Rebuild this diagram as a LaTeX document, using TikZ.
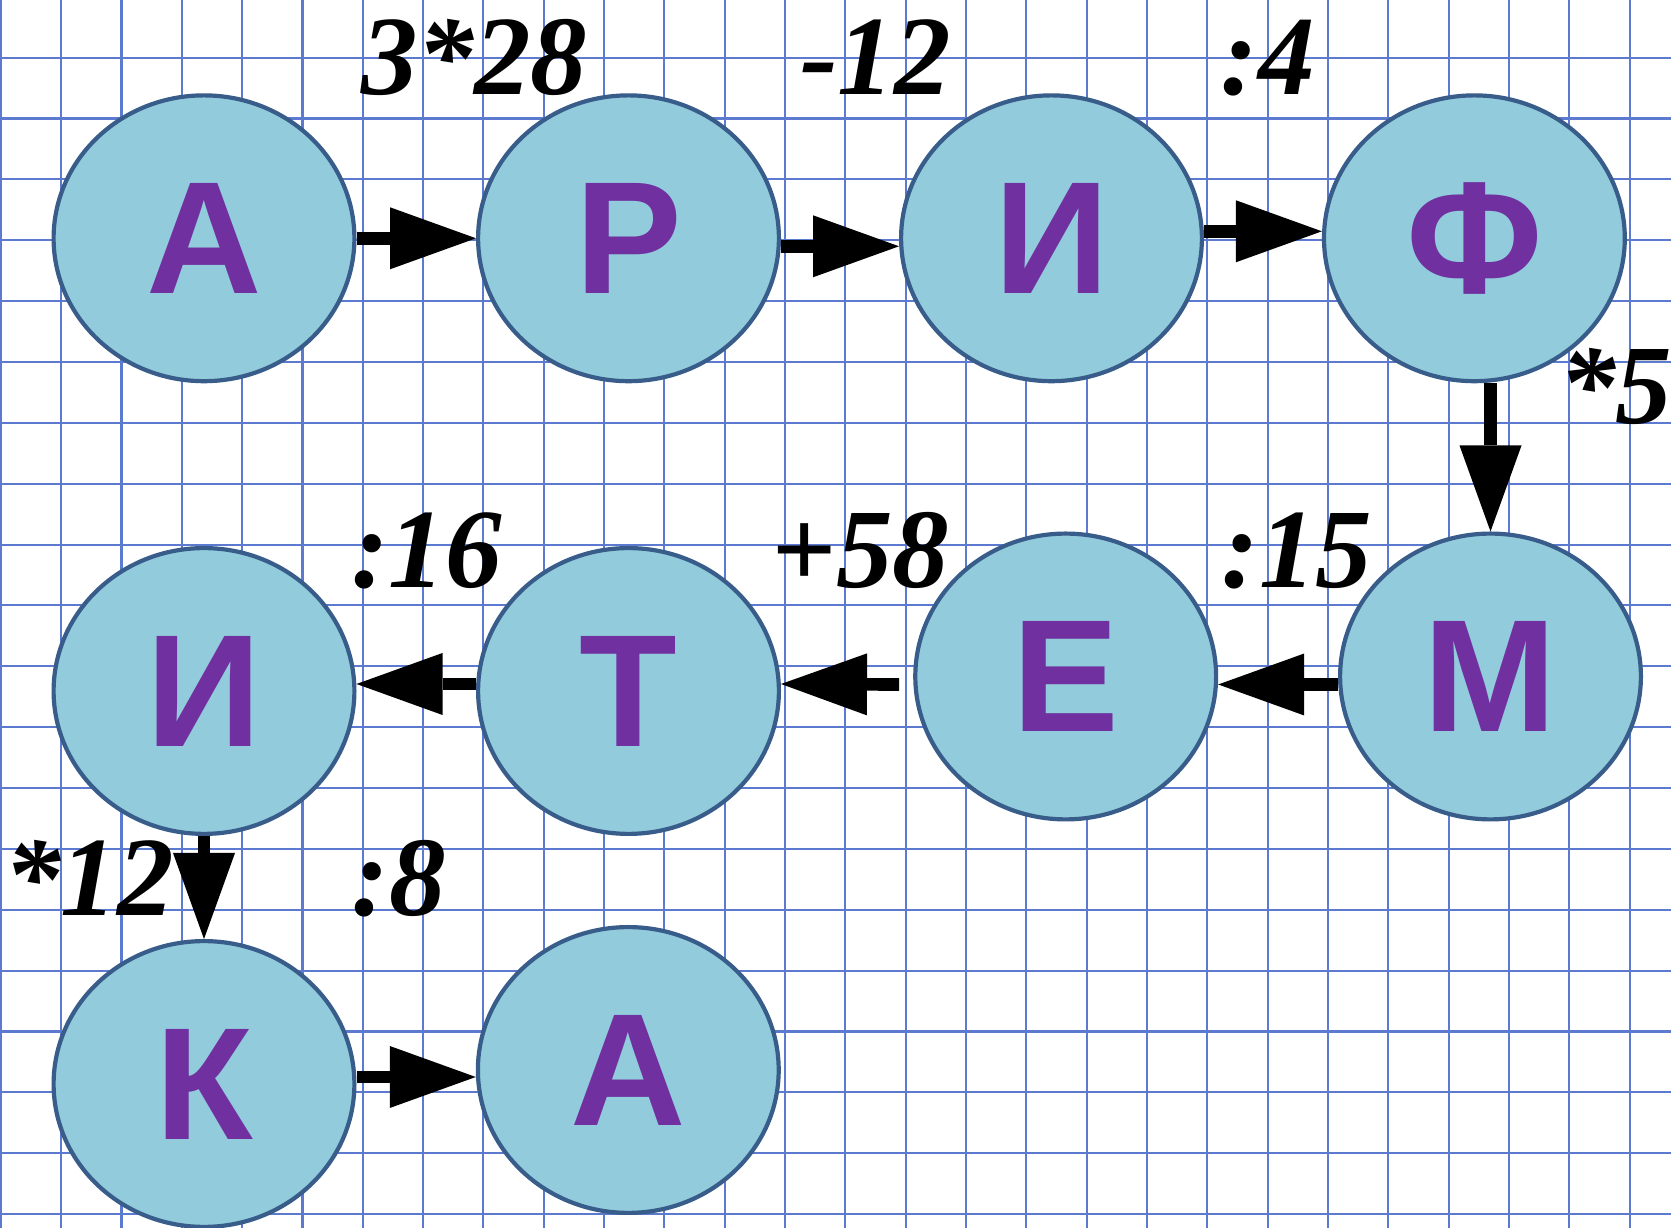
\documentclass[tikz,border=0pt]{standalone}
\usepackage{fontspec}
\setmainfont{Liberation Serif}
\newfontfamily\lettfont{Liberation Sans}
\usetikzlibrary{shapes.geometric,arrows.meta}
\definecolor{gridblue}{RGB}{92,122,208}
\definecolor{circfill}{RGB}{146,203,220}
\definecolor{circline}{RGB}{56,93,138}
\definecolor{lettpurple}{RGB}{112,48,160}
\begin{document}
\begin{tikzpicture}[x=1pt,y=1pt,
  letter/.style={ellipse, draw=circline, line width=4.2pt, fill=circfill,
    minimum width=300.8pt, minimum height=285.8pt, inner sep=0pt,
    text=lettpurple, font=\lettfont\bfseries\fontsize{160}{160}\selectfont},
  oplabel/.style={anchor=base, inner sep=0pt,
    font=\bfseries\itshape\fontsize{113}{113}\selectfont},
  arr/.style={line width=12.7pt, -{Triangle[length=86pt,width=62pt,line width=0pt]}},
  gridline/.style={gridblue, line width=2.1pt}]
\useasboundingbox (0,0) rectangle (1671,1228);
\fill[white] (0,0) rectangle (1671,1228);
\begin{scope}
\clip (0,0) rectangle (1671,1228);
\foreach \k in {0,...,27} \draw[gridline] ({60.33*\k+0.8},0) -- ({60.33*\k+0.8},1228);
\foreach \k in {-1,...,19} \draw[gridline] (0,{1228-57.7-60.86*\k}) -- (1671,{1228-57.7-60.86*\k});
\end{scope}

% letters
\node[letter] (A1) at (204,989.7) {А};
\node[letter] (P)  at (628.5,989.7) {Р};
\node[letter] (I1) at (1051.5,989.7) {И};
\node[letter] (F)  at (1474.4,989.7) {Ф};
\node[letter] (M)  at (1490.5,551.5) {М};
\node[letter] (E)  at (1065.7,551.5) {Е};
\node[letter] (T)  at (628.5,537) {Т};
\node[letter] (I2) at (204,537) {И};
\node[letter] (K)  at (204,144) {К};
\node[letter] (A2) at (628.3,158) {А};

% arrows
\draw[arr] (A1) -- (P);
\draw[arr] ([yshift=-8pt]P.east) -- ([yshift=-8pt]I1.west);
\draw[arr] ([yshift=7pt]I1.east) -- ([yshift=7pt]F.west);
\draw[arr] (F.south -| M.north) -- (M.north);
\draw[arr] ([yshift=-8pt]M.west) -- ([yshift=-8pt]E.east);
\draw[arr] ([shift={(-14pt,-8pt)}]E.west) -- ([yshift=7pt]T.east);
\draw[arr] ([yshift=7pt]T.west) -- ([yshift=7pt]I2.east);
\draw[arr] (I2) -- (K);
\draw[arr] ([yshift=7pt]K.east) -- ([yshift=-7pt]A2.west);

% operation labels
\node[oplabel] (o1) at (474,1133) {3*28};
\node[oplabel] (o2) at (875.5,1133) {-12};
\node[oplabel] (o3) at (1267.5,1133) {:4};
\node[oplabel] (o4) at (1615.8,804) {*5};
\node[oplabel] (o5) at (1296.7,640) {:15};
\node[oplabel] (o6) at (860.5,640) {+58};
\node[oplabel] (o7) at (426.5,640) {:16};
\node[oplabel] (o8) at (89,312) {*12};
\node[oplabel] (o9) at (399,312) {:8};
\end{tikzpicture}
\end{document}
